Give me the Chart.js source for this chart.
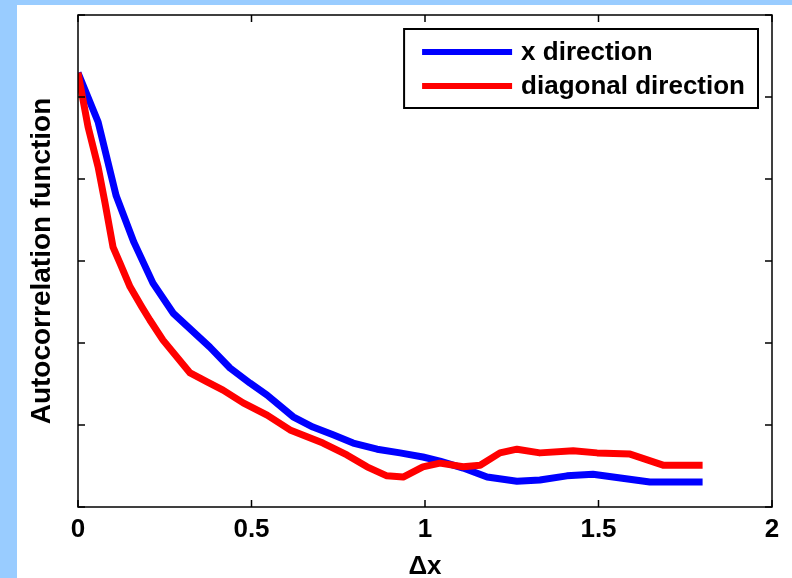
<!DOCTYPE html>
<html>
<head>
<meta charset="utf-8">
<script src="https://cdn.jsdelivr.net/npm/chart.js@4.4.0/dist/chart.umd.min.js"></script>
<style>
  html, body { margin: 0; padding: 0; }
  body { width: 792px; height: 578px; background: #99ccff; overflow: hidden; position: relative; }
  #panel { position: absolute; left: 17px; top: 5px; width: 775px; height: 573px; background: #fff; }
</style>
</head>
<body>
<div id="panel"><canvas id="myChart"></canvas></div>
<script>
// x direction
const dxBlue = [0, 0.058, 0.110, 0.161, 0.216, 0.274, 0.380, 0.438, 0.496, 0.545, 0.620, 0.677, 0.735, 0.793,
  0.862, 0.928, 0.994, 1.043, 1.110, 1.179, 1.265, 1.331, 1.409, 1.484, 1.542, 1.648, 1.80];
const acfBlue = [1.059, 0.939, 0.759, 0.646, 0.546, 0.473, 0.390, 0.339, 0.302, 0.273, 0.220, 0.195, 0.176, 0.156,
  0.141, 0.132, 0.122, 0.112, 0.095, 0.073, 0.063, 0.066, 0.076, 0.080, 0.073, 0.061, 0.061];

// diagonal direction
const dxRed = [0, 0.029, 0.058, 0.078, 0.101, 0.121, 0.150, 0.184, 0.207, 0.245, 0.323, 0.372, 0.418, 0.476,
  0.545, 0.611, 0.706, 0.775, 0.833, 0.890, 0.937, 0.994, 1.043, 1.110, 1.159, 1.216, 1.265, 1.331, 1.427,
  1.496, 1.591, 1.686, 1.80];
const acfRed = [1.059, 0.927, 0.829, 0.741, 0.634, 0.595, 0.537, 0.488, 0.456, 0.407, 0.327, 0.305, 0.285, 0.254,
  0.224, 0.188, 0.156, 0.127, 0.098, 0.076, 0.073, 0.098, 0.107, 0.098, 0.102, 0.132, 0.141, 0.132, 0.137,
  0.132, 0.129, 0.102, 0.102];

const seriesLabels = ["x direction", "diagonal direction"];
const xTickStep = 0.5;  // tick labels 0, 0.5, 1, 1.5, 2
const yTickStep = 0.2;  // unlabelled ticks

const toPoints = (xs, ys) => xs.map((x, i) => ({ x: x, y: ys[i] }));
const fontFamily = "'Liberation Sans', Arial, sans-serif";

// box, inward ticks and the legend, drawn like the matlab figure
const framePlugin = {
  id: "frame",
  afterDatasetsDraw(chart) {
    const { ctx, chartArea: a, scales } = chart;
    ctx.save();
    ctx.strokeStyle = "#000";
    ctx.lineWidth = 1.5;
    ctx.strokeRect(a.left, a.top, a.right - a.left, a.bottom - a.top);

    const len = 7;
    ctx.beginPath();
    scales.x.ticks.forEach(t => {
      const px = scales.x.getPixelForValue(t.value);
      ctx.moveTo(px, a.bottom); ctx.lineTo(px, a.bottom - len);
      ctx.moveTo(px, a.top); ctx.lineTo(px, a.top + len);
    });
    scales.y.ticks.forEach(t => {
      const py = scales.y.getPixelForValue(t.value);
      ctx.moveTo(a.left, py); ctx.lineTo(a.left + len, py);
      ctx.moveTo(a.right, py); ctx.lineTo(a.right - len, py);
    });
    ctx.stroke();

    // legend
    ctx.font = "bold 26px " + fontFamily;
    const ds = chart.data.datasets;
    const textW = Math.max(...ds.map(d => ctx.measureText(d.label).width));
    const lineLen = 90, gapL = 18, gapT = 9, padR = 13;
    const boxW = gapL + lineLen + gapT + textW + padR;
    const boxH = 79;
    const right = a.right - 14, top = a.top + 14;
    const left = right - boxW;
    ctx.fillStyle = "#fff";
    ctx.fillRect(left, top, boxW, boxH);
    ctx.lineWidth = 2;
    ctx.strokeRect(left, top, boxW, boxH);
    ds.forEach((d, i) => {
      const y = top + 23 + i * 34;
      ctx.strokeStyle = d.borderColor;
      ctx.lineWidth = 6;
      ctx.beginPath();
      ctx.moveTo(left + gapL, y);
      ctx.lineTo(left + gapL + lineLen, y);
      ctx.stroke();
      ctx.fillStyle = "#000";
      ctx.textBaseline = "middle";
      ctx.fillText(d.label, left + gapL + lineLen + gapT, y + 1);
    });
    ctx.restore();
  }
};

var ctx = document.getElementById("myChart").getContext("2d");
var chart = new Chart(ctx, {
  type: "line",
  data: {
    datasets: [
      {
        label: seriesLabels[0],
        data: toPoints(dxBlue, acfBlue),
        borderColor: "#0000ff",
        borderWidth: 7,
        borderJoinStyle: "round",
        pointRadius: 0,
        tension: 0,
        order: 1
      },
      {
        label: seriesLabels[1],
        data: toPoints(dxRed, acfRed),
        borderColor: "#ff0000",
        borderWidth: 7,
        borderJoinStyle: "round",
        pointRadius: 0,
        tension: 0,
        order: 0
      }
    ]
  },
  options: {
    responsive: true,
    maintainAspectRatio: false,
    animation: false,
    layout: { padding: { left: 0, top: 10, right: 20, bottom: 0 } },
    plugins: { legend: { display: false }, tooltip: { enabled: false } },
    scales: {
      x: {
        type: "linear",
        min: 0,
        max: 2,
        afterFit: s => { s.height = 71; },
        grid: { display: false, drawTicks: false },
        border: { display: false },
        ticks: {
          stepSize: xTickStep,
          color: "#000",
          padding: 7,
          maxRotation: 0,
          callback: v => String(v),
          font: { family: fontFamily, size: 26, weight: "bold" }
        },
        title: {
          display: true,
          text: "Δx",
          color: "#000",
          padding: { top: 0, bottom: -4 },
          font: { family: fontFamily, size: 26, weight: "bold" }
        }
      },
      y: {
        type: "linear",
        min: 0,
        max: 1.2,
        afterFit: s => { s.width = 61; },
        grid: { display: false, drawTicks: false },
        border: { display: false },
        ticks: { display: false, stepSize: yTickStep },
        title: {
          display: true,
          text: "Autocorrelation function",
          color: "#000",
          padding: { top: 8, bottom: 0 },
          font: { family: fontFamily, size: 28, weight: "bold" }
        }
      }
    }
  },
  plugins: [framePlugin]
});
</script>
</body>
</html>
